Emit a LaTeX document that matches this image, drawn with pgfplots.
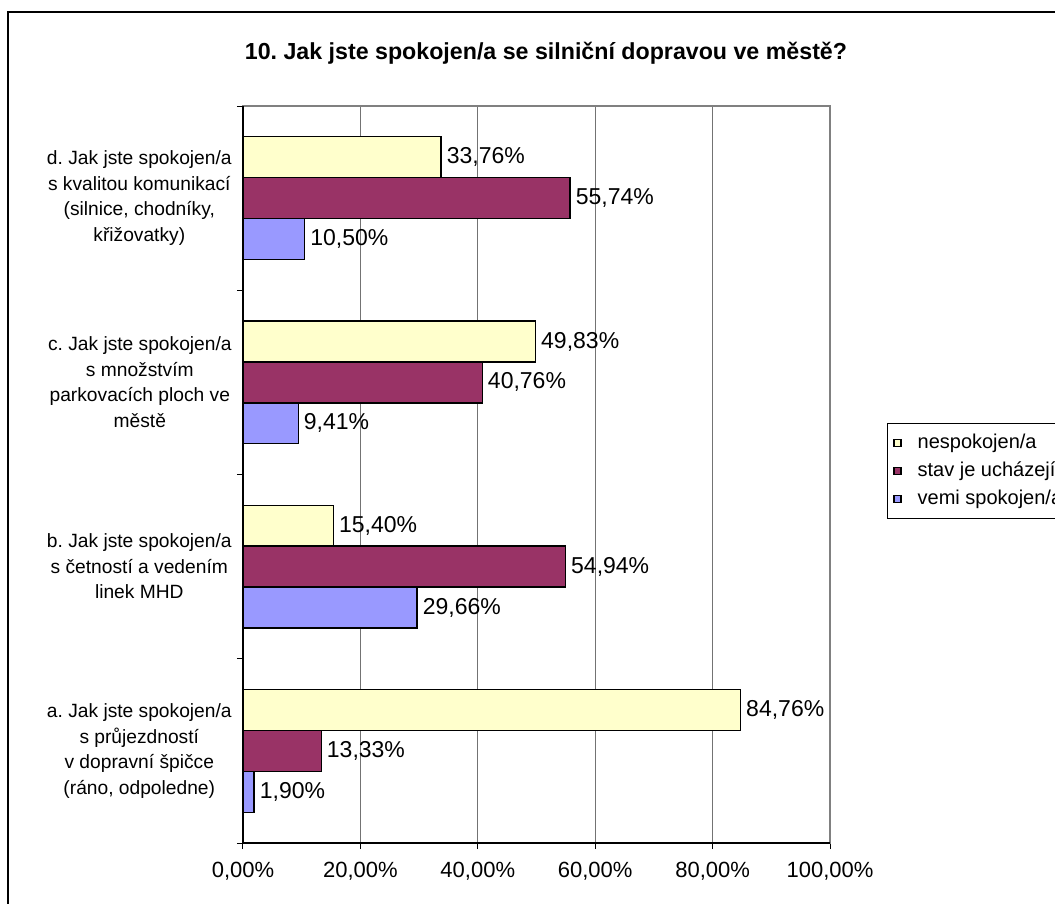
\documentclass[border=0pt]{standalone}
\usepackage{pgfplots}
\pgfplotsset{compat=1.18}
\usepackage{fontspec}
\setmainfont{Liberation Sans}
\definecolor{cyel}{HTML}{FFFFCC}
\definecolor{cpur}{HTML}{993366}
\definecolor{cblu}{HTML}{9999FF}
\pgfplotsset{sqlegend/.style={legend image code/.code={\draw[##1, line width=0.6pt] (0pt,-1.75pt) rectangle (3.5pt,1.75pt);}}}
\frenchspacing
\begin{document}
\frenchspacing
\begin{tikzpicture}
\useasboundingbox (0pt,0pt) rectangle (527.5pt,-452pt);
\clip (0pt,0pt) rectangle (527.5pt,-452pt);
\draw[black, line width=0.6pt] (4pt,-6pt) rectangle (600pt,-600pt);
\node[font=\bfseries\fontsize{11.6}{14}\selectfont, anchor=base, inner sep=0pt] at (273pt,-30pt) {10. Jak jste spokojen/a se silniční dopravou ve městě?};
\begin{axis}[
  at={(121.5pt,-421.5pt)}, anchor=south west,
  scale only axis, width=293.5pt, height=368.5pt,
  xbar, bar width=0.222,
  xmin=0, xmax=100, ymin=-0.5, ymax=3.5,
  /pgf/number format/assume math mode=true,
  xtick={0,20,40,60,80,100},
  xticklabel={\pgfmathprintnumber[fixed,fixed zerofill,precision=2,use comma]{\tick}\%},
  xticklabel style={font=\fontsize{11}{13}\selectfont, yshift=-3pt},
  ytick={-0.5,0.5,1.5,2.5,3.5},
  yticklabels={,,,,},
  extra y ticks={0,1,2,3},
  extra y tick labels={{a. Jak jste spokojen/a\\s průjezdností\\v dopravní špičce\\(ráno, odpoledne)},
    {b. Jak jste spokojen/a\\s četností a vedením\\linek MHD},
    {c. Jak jste spokojen/a\\s množstvím\\parkovacích ploch ve\\městě},
    {d. Jak jste spokojen/a\\s kvalitou komunikací\\(silnice, chodníky,\\křižovatky)}},
  extra y tick style={major tick length=0pt,
    tick label style={align=center, font=\fontsize{9.6}{12.75}\selectfont, inner sep=0pt, xshift=-5.5pt}},
  tick align=outside, major tick length=3pt,
  xtick pos=left, ytick pos=left,
  tick style={black, line width=0.5pt},
  axis line style={draw=black!50, line width=0.6pt},
  xmajorgrids, grid style={draw=black!55, line width=0.5pt},
  nodes near coords={\pgfmathprintnumber[fixed,fixed zerofill,precision=2,use comma]{\pgfplotspointmeta}\%},
  every node near coord/.append style={font=\fontsize{11.5}{13}\selectfont, anchor=west, inner sep=2.5pt, text=black},
  legend style={at={(1.097,0.570)}, anchor=north west, draw=black, line width=0.5pt,
    font=\fontsize{10}{12}\selectfont, row sep=2.5pt, column sep=7pt,
    inner xsep=3pt, inner ysep=4pt,
    nodes={inner sep=1pt, text depth=0.2em, text height=0.75em}},
  legend cell align=left,
  after end axis/.code={\draw[black, line width=0.6pt] (rel axis cs:0,1) -- (rel axis cs:0,0) -- (rel axis cs:1,0);},
]
\addplot[fill=cyel, draw=black, line width=0.7pt, bar shift=0.222, sqlegend]
  coordinates {(84.76,0) (15.40,1) (49.83,2) (33.76,3)};
\addlegendentry{nespokojen/a}
\addplot[fill=cpur, draw=black, line width=0.7pt, bar shift=0, sqlegend]
  coordinates {(13.33,0) (54.94,1) (40.76,2) (55.74,3)};
\addlegendentry{stav je ucházející}
\addplot[fill=cblu, draw=black, line width=0.7pt, bar shift=-0.222, sqlegend]
  coordinates {(1.90,0) (29.66,1) (9.41,2) (10.50,3)};
\addlegendentry{vemi spokojen/a}
\end{axis}
\end{tikzpicture}
\end{document}
